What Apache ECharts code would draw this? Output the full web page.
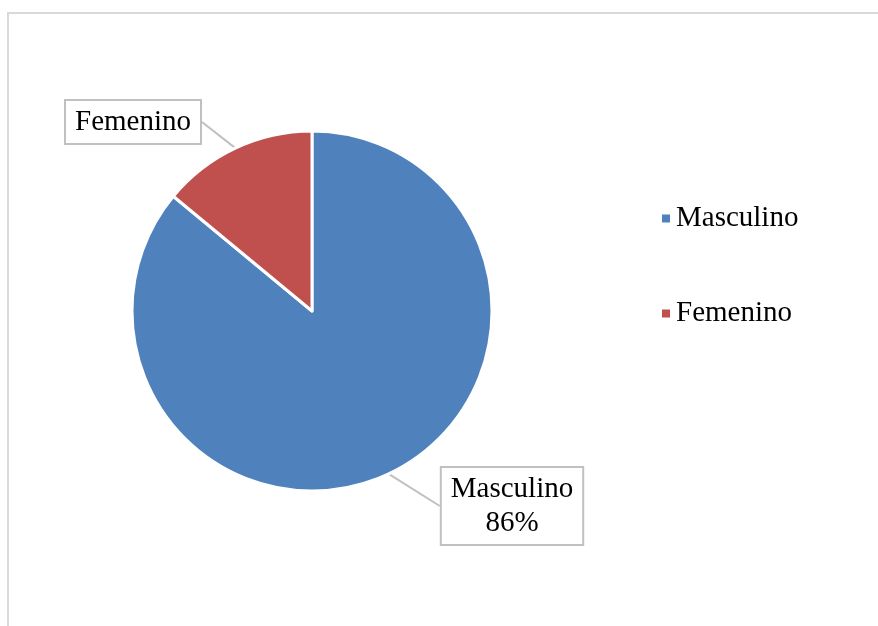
<!DOCTYPE html>
<html>
<head>
<meta charset="utf-8">
<script src="https://cdn.jsdelivr.net/npm/echarts@6/dist/echarts.min.js"></script>
<style>
  html, body { margin: 0; padding: 0; background: #fff; }
  #frame { position: absolute; left: 7px; top: 12px; width: 900px; height: 700px;
           border-top: 2px solid #d9d9d9; border-left: 2px solid #d9d9d9; }
  #chart { position: absolute; left: 0; top: 0; width: 878px; height: 626px; }
</style>
</head>
<body>
<div id="frame"></div>
<div id="chart"></div>
<script>
// data
var categories = ['Masculino', 'Femenino']
var values = [86, 14]
var colors = ['#4f81bd', '#c0504d']
// label box centres (px)
var labelPos = [[512, 506], [133, 122]]

var font = '"Liberation Serif", "Times New Roman", serif'

var seriesData = categories.map(function (name, i) {
  return {
    name: name,
    value: values[i],
    itemStyle: { color: colors[i] },
    label: { formatter: i === 0 ? '{b}\n{d}%' : '{b}' }
  }
})

var chart = echarts.init(document.getElementById('chart'))
chart.setOption({
  animation: false,
  legend: {
    orient: 'vertical',
    left: 655,
    top: 199,
    itemWidth: 10,
    itemHeight: 10,
    itemGap: 66,
    icon: 'rect',
    data: categories,
    textStyle: { fontFamily: font, fontSize: 29, color: '#000' }
  },
  series: [
    {
      name: 'Sexo',
      type: 'pie',
      center: [312, 311],
      radius: [0, 180],
      startAngle: 90,
      clockwise: true,
      data: seriesData,
      itemStyle: { borderColor: '#fff', borderWidth: 3 },
      label: {
        show: true,
        position: 'outside',
        fontFamily: font,
        fontSize: 29,
        lineHeight: 34,
        color: '#000',
        align: 'center',
        backgroundColor: '#fff',
        borderColor: '#c0c0c0',
        borderWidth: 2,
        padding: [4, 9, 4, 9]
      },
      labelLine: {
        show: true,
        length: 8,
        length2: 0,
        minTurnAngle: 180,
        lineStyle: { color: '#c0c0c0', width: 2 }
      },
      labelLayout: function (params) {
        var p = labelPos[params.dataIndex]
        return { x: p[0], y: p[1], align: 'center', verticalAlign: 'middle' }
      }
    }
  ]
})
</script>
</body>
</html>
